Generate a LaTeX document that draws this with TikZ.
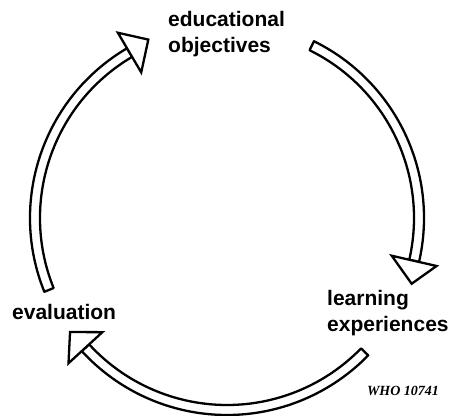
\documentclass[tikz,border=0pt]{standalone}
\usepackage{fontspec}
\setmainfont{Liberation Sans}
\newfontfamily\codefont{Liberation Serif}

\tikzset{
  shaft/.style={draw=black, line width=2.3pt, fill=white, line join=round},
  head/.style={draw=black, line width=2.3pt, fill=white, line join=miter},
  stage/.style={font=\fontsize{21}{26}\selectfont\bfseries, align=left,
                inner sep=0pt, anchor=west},
}

\begin{document}
\begin{tikzpicture}[x=1pt, y=1pt]

    \useasboundingbox (0,0) rectangle (455,415);

    % --- Define Coordinates ---
    % C is the centre of the cycle
    \coordinate (C) at (227,197);

    % --- Draw Arrows (clockwise) ---

    % evaluation -> educational objectives
    \draw[shaft] ([shift={(202:197)}]C) arc[start angle=202, end angle=120.5, radius=197]
        -- ([shift={(120.5:187)}]C) arc[start angle=120.5, end angle=202, radius=187] -- cycle;
    \draw[head] ([shift={(120.5:215)}]C) -- ([shift={(113.8:195)}]C)
        -- ([shift={(120.5:169)}]C) -- cycle;

    % educational objectives -> learning experiences
    \draw[shaft] ([shift={(63.8:197)}]C) arc[start angle=63.8, end angle=-12.9, radius=197]
        -- ([shift={(-12.9:187)}]C) arc[start angle=-12.9, end angle=63.8, radius=187] -- cycle;
    \draw[head] ([shift={(-12.9:215)}]C) -- ([shift={(-19.6:196)}]C)
        -- ([shift={(-12.9:169)}]C) -- cycle;

    % learning experiences -> evaluation
    \draw[shaft] ([shift={(-44.2:197)}]C) arc[start angle=-44.2, end angle=-137.5, radius=197]
        -- ([shift={(-137.5:187)}]C) arc[start angle=-137.5, end angle=-44.2, radius=187] -- cycle;
    \draw[head] ([shift={(-137.5:215)}]C) -- ([shift={(-144:194)}]C)
        -- ([shift={(-137.5:169)}]C) -- cycle;

    % --- Place Labels ---

    % top stage
    \node[stage] (objectives) at (168,381) {educational\\objectives};

    % right stage
    \node[stage] (experiences) at (327,102) {learning\\experiences};

    % left stage
    \node[stage] (evaluation) at (12,103) {evaluation};

    % figure number, bottom right
    \node[inner sep=0pt, font=\codefont\fontsize{14}{14}\selectfont\bfseries\itshape]
        (code) at (403,24) {WHO 10741};

\end{tikzpicture}
\end{document}
